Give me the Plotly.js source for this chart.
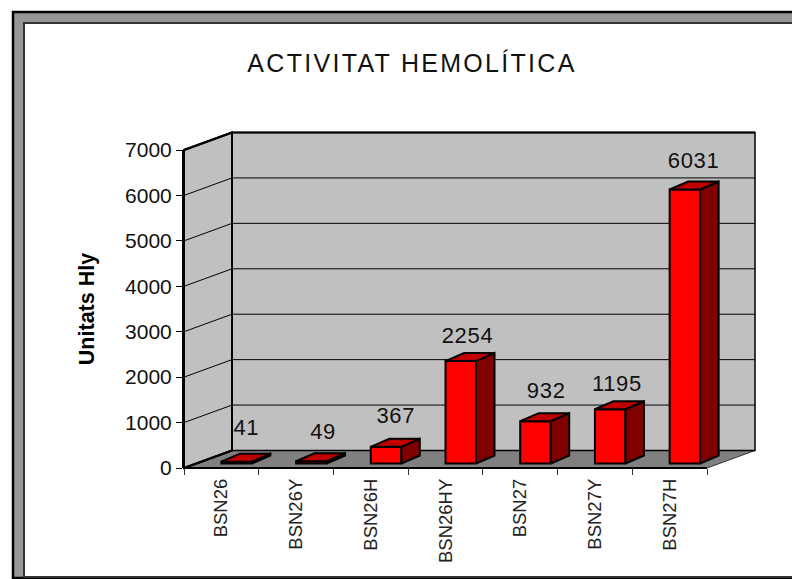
<!DOCTYPE html>
<html><head><meta charset="utf-8">
<script src="https://cdn.plot.ly/plotly-3.0.1.min.js"></script>
<style>html,body{margin:0;padding:0;background:#fff}
.gtitle{letter-spacing:2.3px}
.textpoint text{letter-spacing:0.7px}</style></head>
<body><div id="chart" style="width:792px;height:579px"></div>
<script>
const categories = ["BSN26","BSN26Y","BSN26H","BSN26HY","BSN27","BSN27Y","BSN27H"];
const hemolyticUnits = [41,49,367,2254,932,1195,6031];
const yTicks = [0,1000,2000,3000,4000,5000,6000,7000];

// layout geometry in pixels
const W=792,H=579,L=184,R=707,T=150,B=468;
const wallDx=48, wallDy=17.5, barDx=18.5, barDy=8, barW=30.5, barBase=4.5;
const pw=R+wallDx-L, ph=B-T;
const pxPerCat=(R-L)/categories.length, pxPerVal=ph/7000;
const labelDx=[25,27,25,22,26,22,24], labelDy=[32.5,27.5,29.5,23.5,28.5,23.5,27.5];
const fx=p=>(p-L)/pw, fy=p=>(B-p)/ph;

function poly(pts,fill,lw,col){
  const path=pts.map((p,i)=>(i?'L':'M')+fx(p[0])+','+fy(p[1])).join(' ')+' Z';
  return {type:'path',xref:'paper',yref:'paper',path,fillcolor:fill,layer:'below',line:{color:col||'#000',width:lw}};
}
function seg(x0,y0,x1,y1,lw,col){
  return {type:'line',xref:'paper',yref:'paper',x0:fx(x0),y0:fy(y0),x1:fx(x1),y1:fy(y1),layer:'below',line:{color:col||'#000',width:lw}};
}
const shapes=[
  poly([[13,12],[800,12],[800,578],[13,578]],'#969696',2.5,'#000'),
  poly([[24,23],[800,23],[800,577],[24,577]],'#ffffff',2,'#333'),
  poly([[L,B],[R,B],[R+wallDx,B-wallDy],[L+wallDx,B-wallDy]],'#808080',1,'#333'),
  poly([[L+wallDx,T-wallDy],[R+wallDx,T-wallDy],[R+wallDx,B-wallDy],[L+wallDx,B-wallDy]],'#c0c0c0',1.5),
  poly([[L,T],[L+wallDx,T-wallDy],[L+wallDx,B-wallDy],[L,B]],'#c0c0c0',2),
];
yTicks.slice(1,-1).forEach(v=>{
  const y=B-v*pxPerVal;
  shapes.push(seg(L,y,L+wallDx,y-wallDy,1));
  shapes.push(seg(L+wallDx,y-wallDy,R+wallDx,y-wallDy,1));
});
shapes.push(seg(L+wallDx,T-wallDy,L+wallDx,B-wallDy,2));
shapes.push(seg(L+wallDx,T-wallDy,R+wallDx,T-wallDy,2));
shapes.push(seg(L,B,L+wallDx,B-wallDy,2));
shapes.push(seg(L,T,L+wallDx,T-wallDy,2));
shapes.push(seg(L,B,R,B,2));

// data-unit conversions
const cx=i=>i+0.5;
const ux=p=>p/pxPerCat, uy=p=>p/pxPerVal;
const base=uy(barBase), bw=ux(barW), ddx=ux(barDx), ddy=uy(barDy);
const xMax=ux(pw);

const traces=[];
traces.push({type:'bar',x:categories.map((c,i)=>cx(i)+bw/2),y:hemolyticUnits,base:base,width:bw,
  marker:{color:'#ff0000',line:{color:'#000',width:2}},hoverinfo:'skip',showlegend:false});
hemolyticUnits.forEach((v,i)=>{
  const x0=cx(i),x1=x0+bw,y0=base,y1=base+v;
  traces.push({type:'scatter',mode:'lines',x:[x1,x1+ddx,x1+ddx,x1,x1],y:[y0,y0+ddy,y1+ddy,y1,y0],
    fill:'toself',fillcolor:'#800000',line:{color:'#000',width:2},cliponaxis:false,hoverinfo:'skip',showlegend:false});
  traces.push({type:'scatter',mode:'lines',x:[x0,x1,x1+ddx,x0+ddx,x0],y:[y1,y1,y1+ddy,y1+ddy,y1],
    fill:'toself',fillcolor:'#c00000',line:{color:'#000',width:2},cliponaxis:false,hoverinfo:'skip',showlegend:false});
});
traces.push({type:'scatter',mode:'text',
  x:hemolyticUnits.map((v,i)=>cx(i)+ux(labelDx[i])),
  y:hemolyticUnits.map((v,i)=>base+v+uy(labelDy[i])),
  text:hemolyticUnits.map(String),textposition:'middle center',
  textfont:{family:'"Liberation Sans",Arial,sans-serif',size:22,color:'#111'},cliponaxis:false,hoverinfo:'skip',showlegend:false});
traces.push({type:'scatter',mode:'markers',x:[0],y:[0],xaxis:'x2',marker:{opacity:0},hoverinfo:'skip',showlegend:false});

const tickPositions=categories.map((c,i)=>i).concat([categories.length]);
const layout={
  width:W,height:H,paper_bgcolor:'rgba(0,0,0,0)',plot_bgcolor:'rgba(0,0,0,0)',
  margin:{l:L,r:W-R-wallDx,t:T,b:H-B,pad:0},showlegend:false,shapes,
  title:{text:'ACTIVITAT HEMOLÍTICA',x:412/W,xanchor:'center',y:1-63/H,yanchor:'middle',xref:'container',yref:'container',
    font:{family:'"Liberation Sans",Arial,sans-serif',size:25,color:'#111'}},
  xaxis:{range:[0,xMax],tickmode:'array',tickvals:tickPositions,ticktext:tickPositions.map(()=>''),ticks:'outside',ticklen:6,tickcolor:'#333',tickwidth:1,
    showgrid:false,zeroline:false,showline:false,fixedrange:true},
  xaxis2:{overlaying:'x',side:'bottom',anchor:'y',range:[0,xMax],tickmode:'array',tickvals:categories.map((c,i)=>cx(i)),ticktext:categories,
    tickangle:-90,ticks:'',ticklen:0,ticklabelstandoff:6,showgrid:false,zeroline:false,showline:false,
    tickfont:{family:'"Liberation Sans",Arial,sans-serif',size:18.5,color:'#222'}},
  yaxis:{range:[0,7000],tickmode:'array',tickvals:yTicks,ticktext:yTicks.map(String),ticks:'outside',ticklen:6,tickcolor:'#000',tickwidth:1,
    showgrid:false,zeroline:false,showline:true,linecolor:'#000',linewidth:2,
    tickfont:{family:'"Liberation Sans",Arial,sans-serif',size:21,color:'#111'},
    title:{text:'<b>Unitats Hly</b>',standoff:25,font:{family:'"Liberation Sans",Arial,sans-serif',size:21.5,color:'#000'}},fixedrange:true},
  font:{family:'"Liberation Sans",Arial,sans-serif'}
};
Plotly.newPlot('chart',traces,layout,{staticPlot:true,displayModeBar:false});
</script></body></html>
